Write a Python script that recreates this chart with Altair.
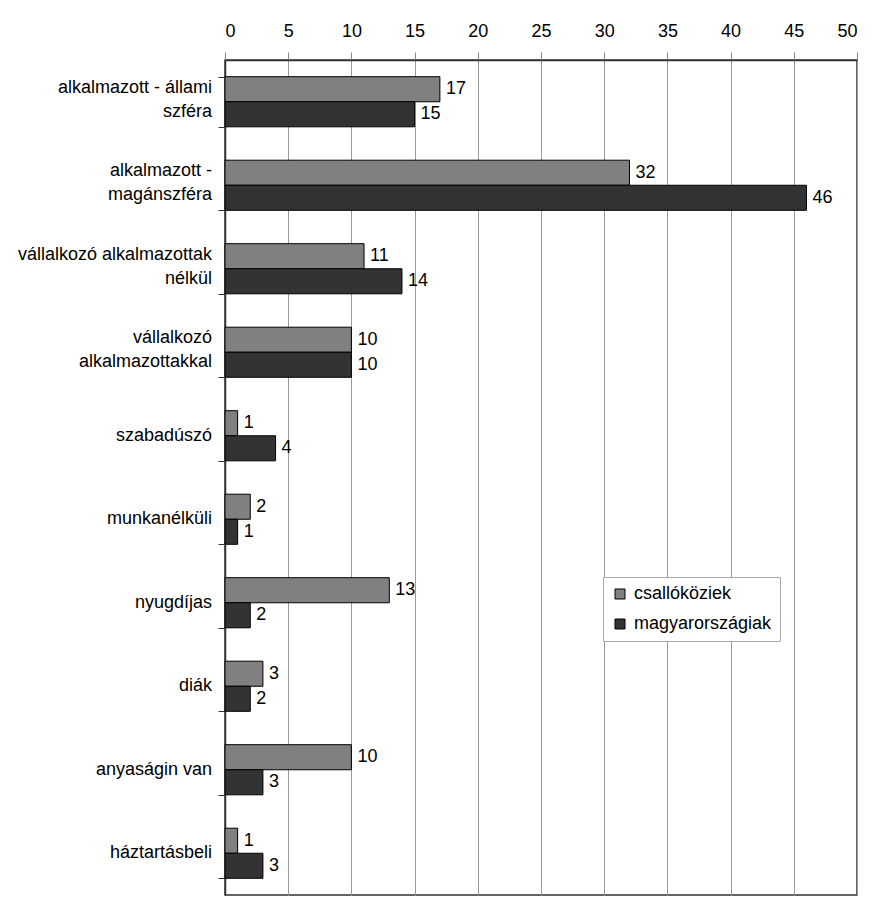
import altair as alt
import pandas as pd

categories = [
    "alkalmazott - állami|szféra",
    "alkalmazott -|magánszféra",
    "vállalkozó alkalmazottak|nélkül",
    "vállalkozó|alkalmazottakkal",
    "szabadúszó",
    "munkanélküli",
    "nyugdíjas",
    "diák",
    "anyaságin van",
    "háztartásbeli",
]
series = ["csallóköziek", "magyarországiak"]
csallokoziek = [17, 32, 11, 10, 1, 2, 13, 3, 10, 1]
magyarorszagiak = [15, 46, 14, 10, 4, 1, 2, 2, 3, 3]
x_ticks = list(range(0, 51, 5))
colors = ["#808080", "#333333"]

rows = []
for c, a, b in zip(categories, csallokoziek, magyarorszagiak):
    rows.append({"cat": c, "series": series[0], "value": a})
    rows.append({"cat": c, "series": series[1], "value": b})
df = pd.DataFrame(rows)
cat_df = pd.DataFrame({"cat": categories, "two": ["|" in c for c in categories]})

FONT = "Liberation Sans"
FS = 18

y_enc = alt.Y(
    "cat:N",
    sort=categories,
    scale=alt.Scale(paddingInner=0.4, paddingOuter=0.2),
    axis=alt.Axis(
        title=None,
        labels=False,
        tickBand="extent",
        tickSize=7,
        tickColor="#333333",
        domainColor="#333333",
        domainWidth=1.5,
    ),
)
yoff = alt.YOffset("series:N", sort=series, scale=alt.Scale(paddingInner=0, paddingOuter=0))

x_enc = alt.X(
    "value:Q",
    scale=alt.Scale(domain=[0, 50], nice=False),
    axis=alt.Axis(
        orient="top",
        title=None,
        values=x_ticks,
        labelFont=FONT,
        labelFontSize=FS,
        labelColor="#000000",
        labelPadding=12,
        tickSize=8,
        tickColor="#888888",
        grid=True,
        gridColor="#999999",
        gridWidth=1,
        domainColor="#333333",
        domainWidth=1.5,
    ),
)

bars = alt.Chart(df).mark_bar(stroke="#000000", strokeWidth=1).encode(
    x=x_enc,
    y=y_enc,
    yOffset=yoff,
    color=alt.Color(
        "series:N",
        sort=series,
        scale=alt.Scale(domain=series, range=colors),
        legend=alt.Legend(
            title=None,
            orient="none",
            legendX=378,
            legendY=517,
            symbolType="square",
            symbolSize=100,
            symbolStrokeColor="#000000",
            symbolStrokeWidth=1,
            labelFont=FONT,
            labelFontSize=FS,
            labelColor="#000000",
            rowPadding=12,
            padding=8,
            strokeColor="#aaaaaa",
            fillColor="#ffffff",
            labelOffset=5,
        ),
    ),
)

texts = alt.Chart(df).mark_text(
    align="left", baseline="middle", dx=6, font=FONT, fontSize=FS, color="#000000"
).encode(
    x="value:Q",
    y=alt.Y("cat:N", sort=categories),
    yOffset=yoff,
    text="value:Q",
)

label_common = dict(align="right", baseline="middle", font=FONT, fontSize=FS,
                    color="#000000", lineBreak="|", lineHeight=24)
labels_one = alt.Chart(cat_df).transform_filter("!datum.two").mark_text(
    dy=0, **label_common
).encode(
    x=alt.value(-13),
    y=alt.Y("cat:N", sort=categories),
    text="cat:N",
)
labels_two = alt.Chart(cat_df).transform_filter("datum.two").mark_text(
    dy=-14, **label_common
).encode(
    x=alt.value(-13),
    y=alt.Y("cat:N", sort=categories),
    text="cat:N",
)

chart = (
    alt.layer(bars, texts, labels_one, labels_two)
    .properties(
        width=632,
        height=835,
        background="#ffffff",
        autosize=alt.AutoSizeParams(type="none"),
        padding={"left": 217, "top": 52, "right": 25, "bottom": 7},
    )
    .configure_view(stroke="#333333", strokeWidth=1.5)
)

chart.save("out.html", embed_options={"renderer": "svg", "actions": False})
